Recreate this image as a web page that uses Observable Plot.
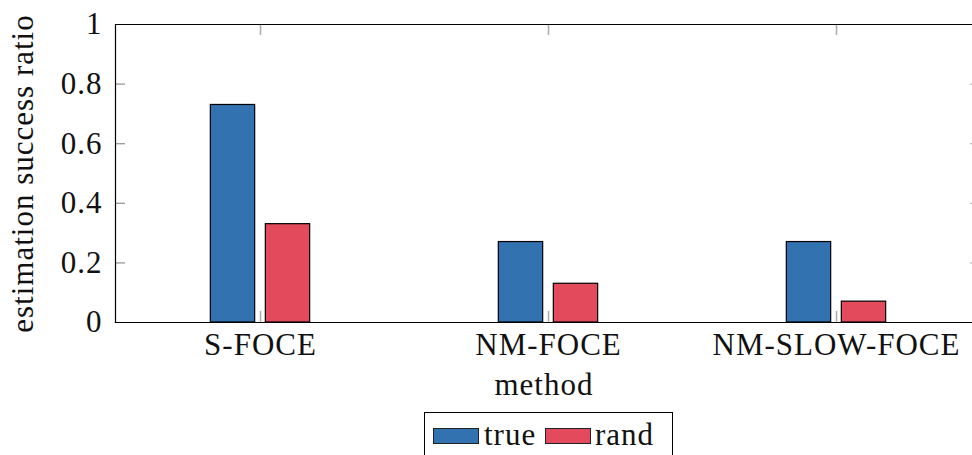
<!DOCTYPE html>
<html>
<head>
<meta charset="utf-8">
<script src="https://cdn.jsdelivr.net/npm/d3@7"></script>
<script src="https://cdn.jsdelivr.net/npm/@observablehq/plot@0.6"></script>
<style>
  html, body { margin: 0; padding: 0; overflow: hidden; background: #fff; width: 972px; }
  #chart svg { display: block; max-width: none !important; height: 408px !important; overflow: hidden; }
  .legend {
    box-sizing: border-box;
    margin-left: 424px; margin-top: 4px;
    width: 249px; height: 60px;
    border: 1px solid #000;
    font-family: "Liberation Serif", serif; font-size: 31px; color: #111; letter-spacing: 1px;
    display: flex; align-items: flex-start; padding-left: 8px; padding-top: 14px;
  }
  .legend .sw { width: 44px; height: 14px; border: 1px solid #222; margin-top: 1px; flex: none; }
  .legend .lab { line-height: 1; margin-top: -8px; flex: none; }
</style>
</head>
<body>
<div id="chart"></div>
<div class="legend" id="legend"></div>
<script>
const methods = ["S-FOCE", "NM-FOCE", "NM-SLOW-FOCE"];
const series = ["true", "rand"];
const trueValues = [0.73, 0.27, 0.27];
const randValues = [0.33, 0.13, 0.07];
const yTicks = [0, 0.2, 0.4, 0.6, 0.8, 1];
const yTickLabels = ["0", "0.2", "0.4", "0.6", "0.8", "1"];
const seriesColors = ["#3372b0", "#e34b5d"];
const xLabel = "method";
const yLabel = "estimation success ratio";

const data = [];
methods.forEach((m, i) => {
  data.push({method: m, series: "true", value: trueValues[i]});
  data.push({method: m, series: "rand", value: randValues[i]});
});

const W = 972, H = 408, mL = 115, mR = 0, mT = 24, mB = 86;
const axisRight = 981; // the axis box continues past the cropped right edge
const plotW = W - mL - mR, plotH = H - mT - mB;
const barW = 45, shift = 27.5;
const bandW = (axisRight - mL) / methods.length;
const inset = (bandW - barW) / 2;
const tickLen = 10;

const chart = Plot.plot({
  width: W, height: H,
  marginLeft: mL, marginRight: mR, marginTop: mT, marginBottom: mB,
  style: {fontFamily: "Liberation Serif, serif", fontSize: "31px", color: "#111", background: "#fff", maxWidth: "none", letterSpacing: "1px"},
  x: {domain: methods, padding: 0, range: [mL, axisRight], label: null},
  y: {domain: [0, 1], label: null},
  color: {domain: series, range: seriesColors},
  marks: [
    Plot.barY(data.filter(d => d.series === "true"), {
      x: "method", y: "value", fill: "series", stroke: "#000", strokeWidth: 1.2,
      insetLeft: inset, insetRight: inset, dx: -shift
    }),
    Plot.barY(data.filter(d => d.series === "rand"), {
      x: "method", y: "value", fill: "series", stroke: "#000", strokeWidth: 1.2,
      insetLeft: inset, insetRight: inset, dx: shift
    }),
    // inward ticks
    Plot.ruleY(yTicks.slice(1, -1), {y: d => d, insetRight: plotW - tickLen, stroke: "#999", strokeWidth: 1.3}),
    Plot.ruleY(yTicks.slice(1, -1), {y: d => d, insetLeft: plotW - 2, stroke: "#bbb", strokeWidth: 1.3}),
    Plot.ruleX(methods, {x: d => d, insetTop: plotH - 11, stroke: "#aaa", strokeWidth: 1.5}),
    Plot.ruleX(methods, {x: d => d, insetBottom: plotH - 11, stroke: "#aaa", strokeWidth: 1.5}),
    Plot.frame({anchor: "left", stroke: "#000", strokeWidth: 1.2}),
    Plot.frame({anchor: "top", stroke: "#000", strokeWidth: 1.2}),
    Plot.frame({anchor: "bottom", stroke: "#000", strokeWidth: 1.2}),
    Plot.axisY({ticks: yTicks, tickSize: 0, tickPadding: 13, tickFormat: d => yTickLabels[yTicks.indexOf(d)], label: null}),
    Plot.axisX({tickSize: 0, tickPadding: 10, label: null}),
    Plot.text([xLabel], {frameAnchor: "bottom", text: d => d, textAnchor: "middle", lineAnchor: "top", dy: 50, fill: "#111"}),
    Plot.text([yLabel], {frameAnchor: "left", text: d => d, rotate: -90, textAnchor: "middle", lineAnchor: "middle", dx: -92.5, fill: "#111"})
  ]
});
document.getElementById("chart").appendChild(chart);

const legend = document.getElementById("legend");
const labWidths = [56, 63];
const gapsAfterSwatch = [5, 4];
series.forEach((s, i) => {
  const sw = document.createElement("span");
  sw.className = "sw";
  sw.style.background = seriesColors[i];
  sw.style.marginLeft = i === 0 ? "0px" : "5px";
  legend.appendChild(sw);
  const lab = document.createElement("span");
  lab.className = "lab";
  lab.textContent = s;
  lab.style.marginLeft = gapsAfterSwatch[i] + "px";
  lab.style.width = labWidths[i] + "px";
  legend.appendChild(lab);
});
</script>
</body>
</html>
